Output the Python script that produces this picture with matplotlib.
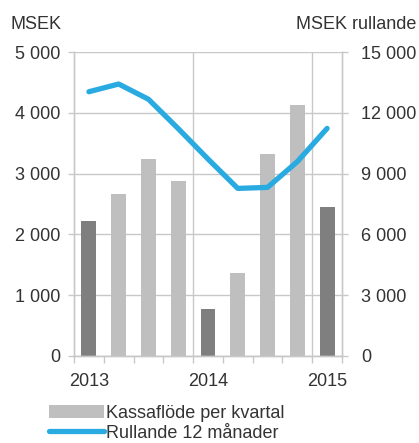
import matplotlib.pyplot as plt
from matplotlib.patches import Patch
from matplotlib.lines import Line2D

quarters = list(range(9))
kassaflode = [2225, 2660, 3245, 2875, 775, 1370, 3315, 4130, 2450]
bar_colors = ['#7f7f7f', '#bfbfbf', '#bfbfbf', '#bfbfbf', '#7f7f7f',
              '#bfbfbf', '#bfbfbf', '#bfbfbf', '#7f7f7f']
rullande = [13040, 13420, 12670, 11220, 9720, 8270, 8320, 9590, 11230]
year_pos = [0, 4, 8]
year_labels = ['2013', '2014', '2015']

plt.rcParams['font.family'] = ['Liberation Sans', 'DejaVu Sans']
txt = '#333333'
grid = '#c8c8c8'
blue = '#29abe2'
fs = 13

fig = plt.figure(figsize=(4.19, 4.43), dpi=100)
ax = fig.add_axes([0.1766, 0.1964, 0.6396, 0.6862])
ax2 = ax.twinx()

ax.bar(quarters, kassaflode, width=0.5, color=bar_colors, zorder=2)
ax2.plot(quarters, rullande, color=blue, lw=3.8, solid_capstyle='round', zorder=3)

ax.set_xlim(-0.5, 8.5)
ax.set_ylim(0, 5000)
ax2.set_ylim(0, 15000)

ax.set_yticks(range(0, 5001, 1000))
ax.set_yticklabels([f'{v:,}'.replace(',', ' ') for v in range(0, 5001, 1000)])
ax2.set_yticks(range(0, 15001, 3000))
ax2.set_yticklabels([f'{v:,}'.replace(',', ' ') for v in range(0, 15001, 3000)])

ax.set_xticks(year_pos)
ax.set_xticklabels(year_labels)
ax.set_xticks([i - 0.5 for i in range(10)], minor=True)
ax.tick_params(axis='x', which='major', length=0, pad=12, labelsize=fs, labelcolor=txt)
ax.tick_params(axis='x', which='minor', length=5, width=1, color=grid)
ax.tick_params(axis='y', length=4, width=1, color=grid, labelsize=fs, labelcolor=txt, pad=6)
ax2.tick_params(axis='y', length=4, width=1, color=grid, labelsize=fs, labelcolor=txt, pad=10)

ax.grid(axis='y', color=grid, lw=1, zorder=0)
for x in [3.5, 7.5]:
    ax.axvline(x, color=grid, lw=1, zorder=1)

for a in (ax, ax2):
    a.spines['top'].set_visible(False)
    for s in ('left', 'right', 'bottom'):
        a.spines[s].set_color(grid)
        a.spines[s].set_linewidth(1)

fig.text(0.024, 0.945, 'MSEK', fontsize=fs, color=txt, va='center', ha='left')
fig.text(0.993, 0.945, 'MSEK rullande', fontsize=fs, color=txt, va='center', ha='right')

handles = [Patch(facecolor='#bfbfbf', edgecolor='none'),
           Line2D([0], [0], color=blue, lw=3.8, solid_capstyle='round')]
fig.legend(handles, ['Kassaflöde per kvartal', 'Rullande 12 månader'],
           loc='upper left', bbox_to_anchor=(0.118, 0.086), frameon=False,
           fontsize=fs, labelcolor=txt, handlelength=3.0, handleheight=0.7,
           handletextpad=0.15, labelspacing=0.15, borderpad=0, borderaxespad=0)

fig.savefig('out.png', dpi=100)
